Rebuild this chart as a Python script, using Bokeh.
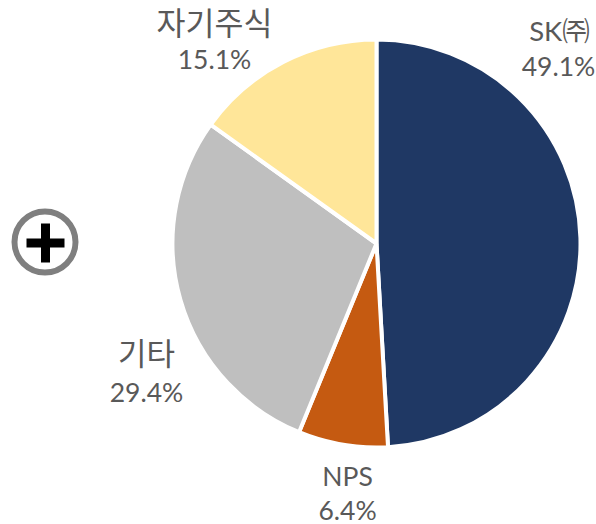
from math import pi
from bokeh.plotting import figure
from bokeh.models import ColumnDataSource
from bokeh.core.properties import value
from bokeh.embed import file_html
from bokeh.resources import INLINE

categories = ["SK㈜", "NPS", "기타", "자기주식"]
# slice sizes as drawn in the picture
shares = [49.1, 7.1, 28.7, 15.1]
share_labels = ["49.1%", "6.4%", "29.4%", "15.1%"]
colors = ["#1F3864", "#C55A11", "#BFBFBF", "#FFE699"]
name_pos = [(559, 30), (347, 475), (146, 352), (214, 22)]
name_size = ["27.5px", "26.5px", "31px", "31.5px"]
pct_pos = [(558, 65), (347, 509), (146, 391), (214, 58)]

W, H = 596, 524
CX, CY, R = 376, 243, 204

p = figure(width=W, height=H, x_range=(0, W), y_range=(0, H), output_backend="svg",
           toolbar_location=None, min_border=0, outline_line_color=None)
p.axis.visible = False
p.grid.visible = False

cum = 0
starts, ends = [], []
for s in shares:
    starts.append(pi / 2 - 2 * pi * cum / 100)
    cum += s
    ends.append(pi / 2 - 2 * pi * cum / 100)

src = ColumnDataSource(dict(start=starts, end=ends, color=colors))
p.wedge(x=CX, y=H - CY, radius=R, start_angle="start", end_angle="end", direction="clock",
        fill_color="color", line_color="white", line_width=4, source=src)

FONT = value("Lato, Noto Sans CJK KR, sans-serif")
for lab, (x, y), size in zip(categories, name_pos, name_size):
    p.text(x=[x], y=[H - y], text=[lab], text_font=FONT, text_font_size=size, text_color="#595959",
           text_align="center", text_baseline="middle")
for lab, (x, y) in zip(share_labels, pct_pos):
    p.text(x=[x], y=[H - y], text=[lab], text_font=FONT, text_font_size="26.5px", text_color="#595959",
           text_align="center", text_baseline="middle")

# plus icon
p.circle(x=[44.5], y=[H - 241.5], radius=30.5, fill_color="white", line_color="#7F7F7F", line_width=6)
p.quad(left=[26, 40.5], right=[64, 49.5], top=[H - 238, H - 223], bottom=[H - 247, H - 262],
       fill_color="black", line_color=None)

open("out.html", "w").write(file_html(p, INLINE))
